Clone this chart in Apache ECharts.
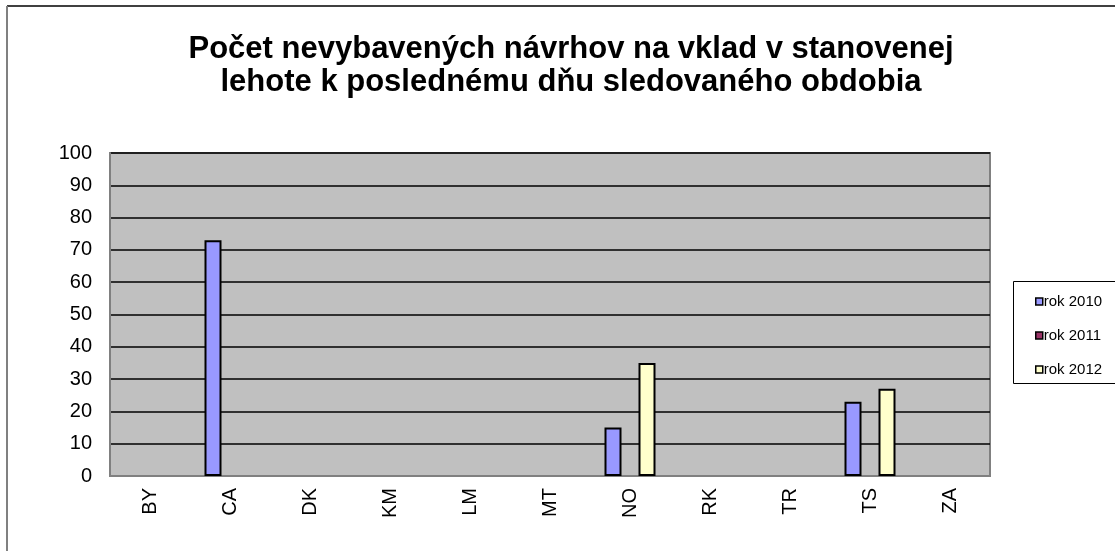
<!DOCTYPE html>
<html>
<head>
<meta charset="utf-8">
<script src="https://cdn.jsdelivr.net/npm/echarts@6/dist/echarts.min.js"></script>
<style>
  html, body { margin: 0; padding: 0; background: #fff; }
  #chart { width: 1115px; height: 551px; }
</style>
</head>
<body>
<div id="chart"></div>
<script>
// Data
const categories = ['BY', 'CA', 'DK', 'KM', 'LM', 'MT', 'NO', 'RK', 'TR', 'TS', 'ZA'];
const seriesNames = ['rok 2010', 'rok 2011', 'rok 2012'];
const rok2010 = [0, 73, 0, 0, 0, 0, 15, 0, 0, 23, 0];
const rok2011 = [0, 0, 0, 0, 0, 0, 0, 0, 0, 0, 0];
const rok2012 = [0, 0, 0, 0, 0, 0, 35, 0, 0, 27, 0];
const colors = ['#9999FF', '#993366', '#FFFFCC'];

const FONT = 'Liberation Sans, Arial, sans-serif';

// Excel does not draw zero bars, so leave them empty
function toBars(values) {
    return values.map(v => (v === 0 ? '-' : v));
}

const chart = echarts.init(document.getElementById('chart'));

const series = [rok2010, rok2011, rok2012].map((values, i) => ({
    name: seriesNames[i],
    type: 'bar',
    data: toBars(values),
    barWidth: 17,
    barGap: '0%',
    itemStyle: { color: colors[i], borderColor: '#000', borderWidth: 2 }
}));

chart.setOption({
    animation: false,
    textStyle: { fontFamily: FONT },
    title: {
        text: 'Počet nevybavených návrhov na vklad v stanovenej\nlehote k poslednému dňu sledovaného obdobia',
        left: 566,
        top: 28,
        textAlign: 'center',
        textStyle: { fontFamily: FONT, fontSize: 31, fontWeight: 'bold', color: '#000', lineHeight: 33 }
    },
    graphic: [
        // outer chart frame
        { type: 'line', shape: { x1: 7, y1: 6, x2: 1120, y2: 6 }, style: { stroke: '#000', lineWidth: 1.5 } },
        { type: 'line', shape: { x1: 7, y1: 6, x2: 7, y2: 560 }, style: { stroke: '#808080', lineWidth: 2 } },
        // legend frame
        { type: 'rect', shape: { x: 1013.5, y: 281.5, width: 120, height: 102 }, style: { fill: 'none', stroke: '#000', lineWidth: 1 } }
    ],
    legend: {
        orient: 'vertical',
        left: 1030,
        top: 289,
        itemWidth: 7,
        itemHeight: 7,
        itemGap: 19,
        icon: 'rect',
        itemStyle: { borderWidth: 1.5, borderColor: '#000' },
        textStyle: { fontFamily: FONT, fontSize: 15, color: '#000', padding: [0, 0, 0, -4] },
        data: seriesNames
    },
    grid: {
        left: 110,
        right: 125,
        top: 153,
        bottom: 75,
        show: true,
        backgroundColor: '#C0C0C0',
        borderColor: '#808080',
        borderWidth: 2
    },
    xAxis: {
        type: 'category',
        data: categories,
        axisLine: { lineStyle: { color: '#808080', width: 2 } },
        axisTick: { show: false },
        axisLabel: { rotate: 90, margin: 12, fontSize: 20, color: '#000', fontFamily: FONT }
    },
    yAxis: {
        type: 'value',
        min: 0,
        max: 100,
        interval: 10,
        axisLine: { show: true, lineStyle: { color: '#808080', width: 2 } },
        axisTick: { show: false },
        axisLabel: { margin: 18, fontSize: 20, color: '#000', fontFamily: FONT },
        splitLine: { lineStyle: { color: '#000', width: 1.5 } }
    },
    series: series
});
</script>
</body>
</html>
